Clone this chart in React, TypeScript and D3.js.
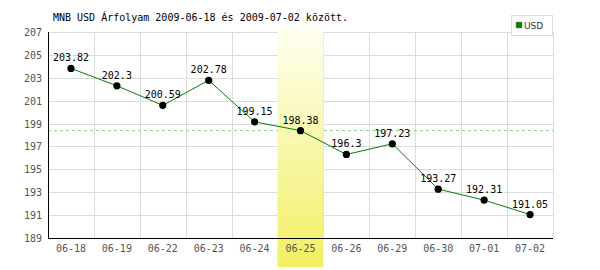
import React from "react";
import * as d3 from "d3";

const categories = ["06-18", "06-19", "06-22", "06-23", "06-24", "06-25", "06-26", "06-29", "06-30", "07-01", "07-02"];
const usdValues = [203.82, 202.3, 200.59, 202.78, 199.15, 198.38, 196.3, 197.23, 193.27, 192.31, 191.05];
const yTicks = [189, 191, 193, 195, 197, 199, 201, 203, 205, 207];
const highlightCategory = "06-25";
const referenceValue = 198.38;
const title = "MNB USD Árfolyam 2009-06-18 és 2009-07-02 között.";
const seriesName = "USD";

const W = 600, H = 270;
const left = 48, right = 553, top = 32, bottom = 238;
const mono = "'DejaVu Sans Mono', monospace";

export default function App() {
  const x = d3.scaleBand<string>().domain(categories).range([left, right]).padding(0);
  const y = d3.scaleLinear().domain([189, 207]).range([bottom, top]);
  const bw = x.bandwidth();
  const cx = (c: string) => (x(c) as number) + bw / 2;
  const line = d3.line<number>().x((_, i) => cx(categories[i])).y((d) => y(d));
  const hx = x(highlightCategory) as number;

  return (
    <svg width={W} height={H} style={{ position: "absolute", left: 0, top: 0, background: "#fff" }}>
      <defs>
        <linearGradient id="hl" x1="0" y1="0" x2="0" y2="1">
          <stop offset="0" stopColor="#fffff4" />
          <stop offset="1" stopColor="#f1ef62" />
        </linearGradient>
      </defs>
      <rect x={0} y={0} width={W} height={H} fill="#fff" />
      {yTicks.map((t) => (
        <line key={"h" + t} x1={left} x2={right} y1={Math.round(y(t)) + 0.5} y2={Math.round(y(t)) + 0.5} stroke="#dcdcdc" strokeWidth={1} />
      ))}
      {categories.map((c, i) => (
        <line key={"v" + c} x1={Math.round((x(c) as number) + bw) + 0.5} x2={Math.round((x(c) as number) + bw) + 0.5} y1={top} y2={bottom} stroke="#dcdcdc" strokeWidth={1} />
      ))}
      <line x1={left} x2={right} y1={y(referenceValue)} y2={y(referenceValue)} stroke="#88cc88" strokeWidth={1} strokeDasharray="3,3" />
      <rect x={hx} y={25} width={bw} height={242} fill="url(#hl)" />
      <line x1={left + 0.5} x2={left + 0.5} y1={top} y2={bottom + 0.5} stroke="#000" strokeWidth={1} />
      <line x1={left} x2={right} y1={bottom + 0.5} y2={bottom + 0.5} stroke="#000" strokeWidth={1} />
      {yTicks.map((t) => (
        <text key={"yt" + t} x={42} y={y(t) + 4} textAnchor="end" fontFamily={mono} fontSize={10} fill="#555">{t}</text>
      ))}
      {categories.map((c) => (
        <text key={"xt" + c} x={cx(c)} y={252} textAnchor="middle" fontFamily={mono} fontSize={10} fill="#555">{c}</text>
      ))}
      <path d={line(usdValues) || ""} fill="none" stroke="#008000" strokeWidth={1} />
      {usdValues.map((v, i) => (
        <circle key={"p" + i} cx={cx(categories[i])} cy={y(v)} r={3.6} fill="#000" />
      ))}
      {usdValues.map((v, i) => (
        <text key={"l" + i} x={cx(categories[i])} y={y(v) - 7} textAnchor="middle" fontFamily={mono} fontSize={10} fill="#000">{String(v)}</text>
      ))}
      <text x={53} y={21} fontFamily={mono} fontSize={10} fill="#000">{title}</text>
      <rect x={511.5} y={15.5} width={41} height={20} fill="#fff" stroke="#dcdcdc" strokeWidth={1} />
      <rect x={516} y={22} width={6} height={6} fill="#008000" stroke="#888" strokeWidth={0.5} />
      <text x={524} y={29} fontFamily="'DejaVu Sans', sans-serif" fontSize={9} fill="#333">{seriesName}</text>
    </svg>
  );
}
